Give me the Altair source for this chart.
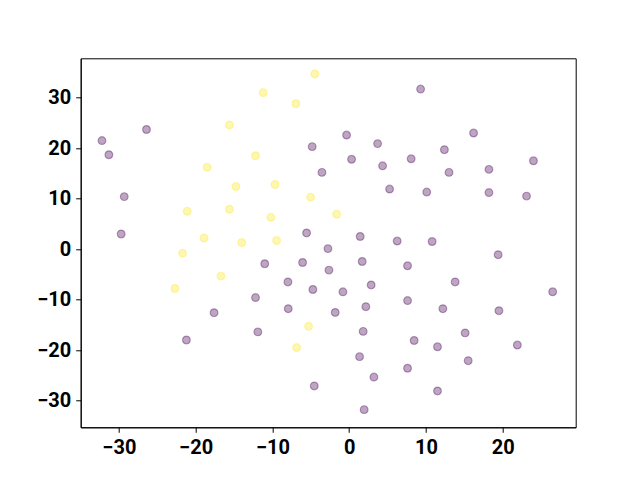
import altair as alt
import pandas as pd

purple_x = [-26.4, -32.2, -31.3, -29.3, -29.7, -17.6, -21.2,
            -0.34, -4.82, 3.70, 0.31, 4.35, 8.07, -3.55, 5.26, -5.55, 1.43, 6.25,
            9.3, 16.2, 12.4, 24.0, 13.0, 18.2, 10.1, 18.2, 23.1, 10.8,
            -2.77, -11.0, -6.07, 1.69, 7.6, -2.64, -7.98, 2.86, -4.73, -0.82, 7.6,
            -12.2, -7.94, 2.17, -1.82, -11.9, 1.82, 1.35, 3.22, 7.6, -4.55, 1.95,
            19.4, 13.8, 26.5, 12.2, 19.5, 15.1, 8.46, 11.5, 21.9, 15.5, 11.5]
purple_y = [23.7, 21.5, 18.7, 10.4, 3.0, -12.6, -18.0,
            22.6, 20.3, 20.9, 17.8, 16.5, 17.9, 15.2, 11.9, 3.2, 2.5, 1.6,
            31.7, 23.0, 19.7, 17.5, 15.2, 15.8, 11.3, 11.2, 10.5, 1.5,
            0.1, -2.9, -2.65, -2.45, -3.3, -4.16, -6.5, -7.1, -8.0, -8.46, -10.2,
            -9.6, -11.8, -11.4, -12.55, -16.4, -16.3, -21.3, -25.35, -23.6, -27.1, -31.8,
            -1.1, -6.5, -8.45, -11.8, -12.2, -16.6, -18.1, -19.35, -19.0, -22.1, -28.1]
yellow_x = [-15.6, -18.5, -14.75, -15.6, -21.1, -18.9, -14.0, -21.7, -16.7, -22.7,
            -4.47, -11.2, -6.94, -12.2, -9.67, -5.03, -1.64, -10.2, -9.45, -5.29, -6.85]
yellow_y = [24.6, 16.2, 12.4, 7.9, 7.5, 2.2, 1.3, -0.8, -5.35, -7.8,
            34.7, 31.0, 28.8, 18.5, 12.8, 10.3, 6.9, 6.3, 1.7, -15.3, -19.5]

df = pd.concat([
    pd.DataFrame({"x": purple_x, "y": purple_y, "c": "a"}),
    pd.DataFrame({"x": yellow_x, "y": yellow_y, "c": "b"}),
])

axis_common = dict(
    labelFont="Roboto", labelFontWeight="bold", labelFontSize=20,
    labelColor="black", tickColor="black", domainColor="black",
    tickSize=5, tickWidth=1, domainWidth=1, grid=False, labelPadding=5,
    title=None,
)

chart = alt.Chart(df).mark_circle(
    size=60, fillOpacity=0.35, strokeOpacity=0.35, strokeWidth=1.2
).encode(
    x=alt.X("x:Q", scale=alt.Scale(domain=[-34.97, 29.5], nice=False, zero=False),
            axis=alt.Axis(values=[-30, -20, -10, 0, 10, 20], **axis_common)),
    y=alt.Y("y:Q", scale=alt.Scale(domain=[-35.3, 37.8], nice=False, zero=False),
            axis=alt.Axis(values=[-30, -20, -10, 0, 10, 20, 30], **axis_common)),
    color=alt.Color("c:N", scale=alt.Scale(domain=["a", "b"], range=["#440154", "#fde725"]), legend=None),
    stroke=alt.Stroke("c:N", scale=alt.Scale(domain=["a", "b"], range=["#440154", "#fde725"]), legend=None),
).properties(
    width=495, height=369,
    autosize=alt.AutoSizeParams(type="none"),
    padding={"left": 72.7, "top": 50.3, "right": 56, "bottom": 45},
).configure_view(stroke="black", strokeWidth=1)

chart.save("out.html", embed_options={"renderer": "svg", "actions": False})
